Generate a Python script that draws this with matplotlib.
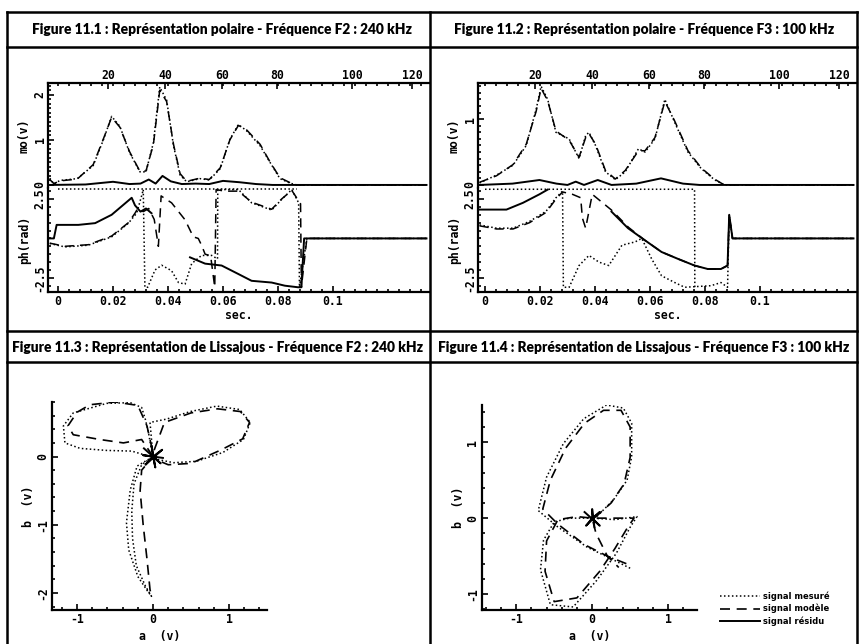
import numpy as np
import matplotlib
matplotlib.use("Agg")
import matplotlib.pyplot as plt
from matplotlib.lines import Line2D
from matplotlib.ticker import MultipleLocator

W, H = 859, 644

# ---- panel titles
titles = [
    "Figure 11.1 : Représentation polaire - Fréquence F2 : 240 kHz",
    "Figure 11.2 : Représentation polaire - Fréquence F3 : 100 kHz",
    "Figure 11.3 : Représentation de Lissajous - Fréquence F2 : 240 kHz",
    "Figure 11.4 : Représentation de Lissajous - Fréquence F3 : 100 kHz",
]
legend_labels = ["signal mesuré", "signal modèle", "signal résidu"]

# ---- fig 11.1 : module (v) vs time (s)
t1_mo = [-0.003, -0.0015, 0.0007, 0.007, 0.0128, 0.0165, 0.0195, 0.0225, 0.026, 0.0298,
         0.032, 0.0347, 0.037, 0.0395, 0.042, 0.0444, 0.0468, 0.0516, 0.055, 0.059,
         0.0625, 0.0656, 0.0686, 0.0735, 0.077, 0.0807, 0.0844, 0.0868, 0.134]
mo1_meas = [0.15, 0.02, 0.1, 0.14, 0.43, 1.0, 1.52, 1.3, 0.72, 0.29,
            0.29, 0.94, 2.17, 1.88, 0.87, 0.22, 0.07, 0.14, 0.11, 0.36,
            1.01, 1.34, 1.2, 0.87, 0.51, 0.14, 0.04, 0.0, 0.0]
mo1_model = [0.12, 0.03, 0.09, 0.13, 0.45, 1.02, 1.5, 1.28, 0.74, 0.3,
             0.31, 0.9, 2.1, 1.85, 0.9, 0.25, 0.08, 0.15, 0.12, 0.38,
             1.0, 1.32, 1.22, 0.9, 0.52, 0.16, 0.05, 0.0, 0.0]
t1_res = [-0.003, 0.01, 0.02, 0.026, 0.03, 0.033, 0.0355, 0.038, 0.041, 0.045,
          0.05, 0.055, 0.06, 0.066, 0.072, 0.078, 0.134]
mo1_res = [0.0, 0.01, 0.07, 0.02, 0.03, 0.12, 0.03, 0.2, 0.08, 0.02,
           0.03, 0.02, 0.09, 0.06, 0.02, 0.0, 0.0]

# ---- fig 11.1 : phase (rad)
t1_ph_meas = [-0.003, 0.0025, 0.011, 0.0195, 0.0256, 0.0286, 0.0304, 0.031, 0.0316, 0.0326,
              0.0353, 0.0377, 0.0413, 0.0438, 0.0462, 0.0486, 0.0522, 0.0559, 0.058, 0.0581,
              0.0607, 0.0656, 0.0704, 0.0777, 0.0813, 0.085, 0.0875, 0.0878, 0.0905, 0.134]
ph1_meas = [-0.32, -0.54, -0.43, 0.1, 0.97, 1.6, 2.7, 3.1, -3.1, -3.1,
            -2.0, -1.7, -2.05, -2.8, -2.9, -1.6, -1.08, -1.08, -1.3, 3.1,
            3.1, 3.1, 2.26, 1.8, 2.47, 3.1, 2.26, -3.1, 0.0, 0.0]
t1_ph_model = [-0.003, 0.0025, 0.011, 0.0195, 0.0256, 0.028, 0.029, 0.031, 0.033, 0.035,
               0.0365, 0.0375, 0.0383, 0.0413, 0.0462, 0.0492, 0.051, 0.0522, 0.0535, 0.0555,
               0.057, 0.0575, 0.0607, 0.0656, 0.0704, 0.0777, 0.0813, 0.085, 0.0882, 0.0885,
               0.0905, 0.134]
ph1_model = [-0.3, -0.5, -0.4, 0.15, 1.0, 1.6, 1.9, 1.7, 1.9, 1.2,
             -0.5, 2.7, 2.6, 2.26, 1.18, 0.1, 0.0, -0.43, -1.0, -1.1,
             -3.1, 3.1, 3.0, 3.0, 2.3, 1.85, 2.5, 3.05, 2.2, -3.1,
             0.0, 0.0]
t1_ph_res = [-0.003, -0.0015, -0.0005, 0.0074, 0.0135, 0.0195, 0.0268, 0.028, 0.030, 0.032,
             0.034, 0.035, 0.048, 0.0535, 0.0595, 0.0656, 0.0704, 0.0777, 0.0825, 0.0873,
             0.0885, 0.0895, 0.134]
ph1_res = [0.0, 0.0, 0.86, 0.86, 0.97, 1.5, 2.58, 2.1, 1.7, 1.9,
           1.6, np.nan, -1.2, -1.6, -1.72, -2.26, -2.69, -2.8, -3.0, -3.1,
           -3.1, 0.0, 0.0]
t1_ph_top = [0.0, 0.087]
ph1_top = [3.12, 3.12]

# ---- fig 11.2 : module (v)
t2_mo = [-0.002, 0.0042, 0.0102, 0.015, 0.0186, 0.0204, 0.0228, 0.0258, 0.0306, 0.0342,
         0.0366, 0.0378, 0.0402, 0.0438, 0.0474, 0.051, 0.0558, 0.0582, 0.0618, 0.0654,
         0.069, 0.0738, 0.0786, 0.0834, 0.087, 0.134]
mo2_meas = [0.03, 0.15, 0.3, 0.6, 1.15, 1.5, 1.3, 0.8, 0.7, 0.4,
            0.75, 0.8, 0.6, 0.2, 0.08, 0.2, 0.55, 0.5, 0.7, 1.3,
            0.95, 0.5, 0.25, 0.08, 0.0, 0.0]
mo2_model = [0.04, 0.14, 0.31, 0.62, 1.12, 1.47, 1.28, 0.82, 0.68, 0.42,
             0.72, 0.78, 0.62, 0.22, 0.09, 0.22, 0.52, 0.52, 0.72, 1.27,
             0.97, 0.52, 0.26, 0.09, 0.0, 0.0]
t2_res = [-0.002, 0.01, 0.0198, 0.026, 0.03, 0.033, 0.036, 0.041, 0.046, 0.055,
          0.064, 0.072, 0.078, 0.134]
mo2_res = [0.0, 0.02, 0.075, 0.02, 0.0, 0.05, 0.0, 0.075, 0.0, 0.02,
           0.1, 0.02, 0.0, 0.0]

# ---- fig 11.2 : phase (rad)
t2_ph_meas = [-0.002, 0.0042, 0.0102, 0.0162, 0.0222, 0.0258, 0.0282, 0.0285, 0.0306, 0.0342,
              0.0378, 0.0414, 0.045, 0.0498, 0.0546, 0.057, 0.0606, 0.0642, 0.069, 0.0726,
              0.0822, 0.0858, 0.0882, 0.0888, 0.09, 0.134]
ph2_meas = [0.86, 0.65, 0.65, 1.08, 1.72, 2.58, 3.0, -3.1, -3.1, -1.72,
            -1.08, -1.5, -1.72, -0.43, -0.22, 0.0, -1.3, -2.37, -2.8, -3.1,
            -3.0, -2.8, -3.1, 1.5, 0.0, 0.0]
t2_ph_model = [-0.002, 0.0042, 0.0102, 0.0162, 0.0222, 0.0258, 0.0282, 0.0318, 0.0348, 0.0354,
               0.0366, 0.039, 0.046, 0.0522, 0.058, 0.0642, 0.0702, 0.0762, 0.081, 0.0858,
               0.0882, 0.0888, 0.09, 0.134]
ph2_model = [0.8, 0.6, 0.6, 1.0, 1.65, 2.5, 2.95, 2.8, 2.58, 1.3,
             0.65, 2.8, 1.8, 0.7, -0.1, -0.86, -1.3, -1.72, -1.94, -1.94,
             -1.72, 1.5, 0.0, 0.0]
t2_ph_res = [-0.002, 0.0078, 0.0138, 0.0198, 0.0228, 0.0232, 0.046, 0.052, 0.058, 0.0642,
             0.0702, 0.0762, 0.081, 0.0858, 0.0882, 0.0888, 0.09, 0.134]
ph2_res = [1.83, 1.83, 2.26, 2.8, 3.1, np.nan, 1.7, 0.65, -0.1, -0.86,
           -1.3, -1.72, -1.94, -1.94, -1.72, 1.5, 0.0, 0.0]
t2_ph_top = [0.0, 0.0762, 0.0763]
ph2_top = [3.12, 3.12, -3.1]

# ---- fig 11.3 : Lissajous a (v) / b (v)
a3_meas = [-0.04, -0.28, -0.61, -0.96, -1.16, -1.18, -1.05, -0.61, -0.3, -0.15,
           -0.1, -0.06, -0.02, 0.0, -0.04, 0.18, 0.49, 0.84, 1.14, 1.28,
           1.19, 0.92, 0.57, 0.27, 0.05, 0.0, -0.21, -0.3, -0.35, -0.32,
           -0.2, -0.08, -0.02, -0.1, -0.22, -0.27, -0.28, -0.25, -0.15, 0.0]
b3_meas = [0.0, 0.08, 0.09, 0.12, 0.2, 0.45, 0.64, 0.78, 0.79, 0.72,
           0.54, 0.35, 0.1, 0.0, 0.5, 0.55, 0.66, 0.74, 0.69, 0.5,
           0.25, 0.06, -0.07, -0.09, -0.04, 0.0, -0.14, -0.49, -0.97, -1.37,
           -1.76, -1.96, -2.05, -1.9, -1.6, -1.2, -0.8, -0.4, -0.12, 0.0]
a3_model = [0.0, -0.15, -0.39, -0.7, -1.05, -1.12, -1.0, -0.83, -0.5, -0.2,
            -0.08, 0.0, 0.15, 0.5, 0.85, 1.15, 1.27, 1.18, 0.9, 0.5,
            0.2, 0.05, 0.0, -0.15, -0.17, -0.13, -0.08, -0.04, -0.02]
b3_model = [0.0, 0.25, 0.2, 0.25, 0.32, 0.45, 0.65, 0.76, 0.8, 0.75,
            0.45, 0.05, 0.5, 0.64, 0.7, 0.66, 0.5, 0.26, 0.1, -0.1,
            -0.12, -0.05, 0.0, -0.2, -0.5, -1.0, -1.5, -1.95, -2.05]
a3_res = [-0.12, 0.1, 0.0, -0.1, 0.12, 0.0, -0.02, 0.03, 0.0, -0.13, 0.13]
b3_res = [0.12, -0.1, 0.0, -0.12, 0.1, 0.0, 0.16, -0.16, 0.0, 0.02, -0.02]

# ---- fig 11.4 : Lissajous a (v) / b (v)
a4_meas = [0.5, 0.28, -0.07, -0.46, -0.71, -0.6, -0.38, -0.11, 0.19, 0.41,
           0.52, 0.52, 0.46, 0.28, 0.06, 0.0, 0.3, 0.59, 0.5, 0.32,
           0.06, -0.25, -0.55, -0.68, -0.64, -0.5, -0.3, 0.0]
b4_meas = [-0.66, -0.55, -0.38, -0.11, 0.1, 0.54, 0.98, 1.31, 1.49, 1.45,
           1.25, 0.81, 0.5, 0.24, 0.02, 0.0, -0.02, 0.02, -0.12, -0.46,
           -0.82, -1.17, -1.14, -0.68, -0.29, -0.05, 0.0, 0.0]
a4_model = [0.45, 0.2, -0.1, -0.45, -0.65, -0.55, -0.35, -0.1, 0.15, 0.38,
            0.5, 0.5, 0.42, 0.25, 0.05, 0.0, 0.3, 0.55, 0.45, 0.3,
            0.1, -0.2, -0.5, -0.62, -0.6, -0.45, -0.2, 0.0, 0.05, 0.2,
            0.35]
b4_model = [-0.6, -0.5, -0.35, -0.08, 0.12, 0.5, 0.92, 1.25, 1.42, 1.42,
            1.2, 0.8, 0.45, 0.2, 0.02, 0.0, 0.0, 0.0, -0.15, -0.4,
            -0.7, -1.05, -1.1, -0.7, -0.3, -0.02, 0.02, 0.0, -0.2, -0.5,
            -0.65]
a4_res = [-0.1, 0.1, 0.0, -0.08, 0.1, 0.0, 0.0, 0.03]
b4_res = [0.08, -0.1, 0.0, -0.1, 0.08, 0.0, 0.12, -0.12]

# ---- tick labels
top_tick_pos = [0.0182, 0.0389, 0.0596, 0.0796, 0.1069, 0.1287]
top_tick_lab = ["20", "40", "60", "80", "100", "120"]
bot_tick_pos = [0.0, 0.02, 0.04, 0.06, 0.08, 0.1]
bot_tick_lab = ["0", "0.02", "0.04", "0.06", "0.08", "0.1"]

DOT = (0, (1, 1.6))
DASH = (0, (6, 4))
MONO = {"family": "DejaVu Sans Mono", "weight": "bold", "size": 8.3}

fig = plt.figure(figsize=(W / 100, H / 100), dpi=100)


def box(x0, y0, x1, y1):
    # pixel coords, y from top
    return [x0 / W, 1 - y1 / H, (x1 - x0) / W, (y1 - y0) / H]


def hline(y, x0=7, x1=857, lw=1.8):
    fig.add_artist(Line2D([x0 / W, x1 / W], [1 - y / H, 1 - y / H], color="black", lw=lw))


def vline(x, y0=12, y1=644, lw=1.8):
    fig.add_artist(Line2D([x / W, x / W], [1 - y0 / H, 1 - y1 / H], color="black", lw=lw))


for y in (12, 47, 331, 362):
    hline(y)
for x in (7, 430, 857):
    vline(x)

title_pos = [(222, 29), (644, 29), (218, 347), (644, 347)]
for txt, (x, y) in zip(titles, title_pos):
    fig.text(x / W, 1 - y / H, txt, ha="center", va="center",
             fontsize=9.9, fontweight="heavy", family="Lato")


def style_ticks(ax):
    ax.tick_params(which="both", direction="in", width=1.2, colors="black")
    ax.tick_params(which="major", length=4)
    ax.tick_params(which="minor", length=2.5)
    for s in ax.spines.values():
        s.set_linewidth(1.6)


def polar_panel(x0, x1, top, mid, bot, ymax, yticks,
                t_mo, meas, model, t_res, res,
                tm, pm, tmod, pmod, tr, pr, ttop, ptop):
    ax_mo = fig.add_axes(box(x0, top, x1, mid))
    ax_ph = fig.add_axes(box(x0, mid, x1, bot))
    x_zero = 58 if x0 < 430 else 485
    xlim = ((x0 - x_zero) / 2750, (x1 - x_zero) / 2750)

    ax_mo.plot(t_mo, meas, color="black", lw=1.1, ls=DOT)
    ax_mo.plot(t_mo, model, color="black", lw=1.1, ls=DASH)
    ax_mo.plot(t_res, res, color="black", lw=1.4)
    ax_mo.set_xlim(*xlim)
    ax_mo.set_ylim(-0.03 * ymax, ymax)
    ax_mo.spines["right"].set_visible(False)
    ax_mo.spines["bottom"].set_visible(False)
    ax_mo.xaxis.tick_top()
    ax_mo.set_xticks(top_tick_pos, top_tick_lab, fontdict=MONO)
    ax_mo.xaxis.set_minor_locator(MultipleLocator(0.004))
    ax_mo.set_yticks(yticks, [str(v) for v in yticks], fontdict=MONO,
                     rotation=90, va="center")
    ax_mo.yaxis.set_minor_locator(MultipleLocator(0.1))
    ax_mo.set_ylabel("mo(v)", fontdict=MONO, labelpad=2)
    style_ticks(ax_mo)
    ax_mo.tick_params(axis="x", which="both", bottom=False, pad=1)
    ax_mo.tick_params(axis="y", pad=1)

    ax_ph.plot(ttop, ptop, color="black", lw=1.1, ls=DOT)
    ax_ph.plot(tm, pm, color="black", lw=1.1, ls=DOT)
    ax_ph.plot(tmod, pmod, color="black", lw=1.1, ls=DASH)
    ax_ph.plot(tr, pr, color="black", lw=1.4)
    ax_ph.set_xlim(*xlim)
    ax_ph.set_ylim(-3.4, 3.2)
    ax_ph.spines["right"].set_visible(False)
    ax_ph.spines["top"].set_visible(False)
    ax_ph.set_xticks(bot_tick_pos, bot_tick_lab, fontdict=MONO)
    ax_ph.xaxis.set_minor_locator(MultipleLocator(0.004))
    ax_ph.set_yticks([-2.5, 2.5], ["-2.5", "2.5"], fontdict=MONO,
                     rotation=90, va="center")
    ax_ph.yaxis.set_minor_locator(MultipleLocator(0.5))
    ax_ph.set_ylabel("ph(rad)", fontdict=MONO, labelpad=2)
    ax_ph.set_xlabel("sec.", fontdict=MONO, labelpad=1)
    style_ticks(ax_ph)
    ax_ph.tick_params(axis="x", which="both", top=False, pad=2)
    ax_ph.tick_params(axis="y", pad=1)
    return ax_mo, ax_ph


polar_panel(48, 429, 83, 188, 292, 2.26, [0, 1, 2],
            t1_mo, mo1_meas, mo1_model, t1_res, mo1_res,
            t1_ph_meas, ph1_meas, t1_ph_model, ph1_model, t1_ph_res, ph1_res,
            t1_ph_top, ph1_top)
polar_panel(478, 857, 83, 188, 292, 1.55, [0, 1],
            t2_mo, mo2_meas, mo2_model, t2_res, mo2_res,
            t2_ph_meas, ph2_meas, t2_ph_model, ph2_model, t2_ph_res, ph2_res,
            t2_ph_top, ph2_top)


def lissajous(rect, xlim, ylim, xt, yt, am, bm, amod, bmod, ar, br):
    ax = fig.add_axes(box(*rect))
    h1, = ax.plot(am, bm, color="black", lw=1.1, ls=DOT)
    h2, = ax.plot(amod, bmod, color="black", lw=1.2, ls=DASH)
    h3, = ax.plot(ar, br, color="black", lw=1.4)
    ax.set_xlim(*xlim)
    ax.set_ylim(*ylim)
    ax.spines["right"].set_visible(False)
    ax.spines["top"].set_visible(False)
    ax.set_xticks(xt, [str(v) for v in xt], fontdict=MONO)
    ax.set_yticks(yt, [str(v) for v in yt], fontdict=MONO, rotation=90, va="center")
    ax.xaxis.set_minor_locator(MultipleLocator(0.2))
    ax.yaxis.set_minor_locator(MultipleLocator(0.2))
    ax.set_xlabel("a  (v)", fontdict=MONO, labelpad=3)
    ax.set_ylabel("b  (v)", fontdict=MONO, labelpad=1)
    style_ticks(ax)
    ax.tick_params(axis="both", pad=2)
    return [h1, h2, h3]


lissajous((52, 402, 267, 610), (-1.33, 1.5), (-2.25, 0.8), [-1, 0, 1], [-2, -1, 0],
          a3_meas, b3_meas, a3_model, b3_model, a3_res, b3_res)
handles = lissajous((482, 405, 697, 610), (-1.45, 1.38), (-1.21, 1.49), [-1, 0, 1], [-1, 0, 1],
                    a4_meas, b4_meas, a4_model, b4_model, a4_res, b4_res)

fig.legend(handles, legend_labels, loc="lower left",
           bbox_to_anchor=(716 / W, 1 - 630 / H), frameon=False,
           prop={"family": "DejaVu Sans", "weight": "bold", "size": 6},
           handlelength=4.8, labelspacing=0.35, handletextpad=0.3, borderpad=0)

fig.savefig("out.png", dpi=100)
